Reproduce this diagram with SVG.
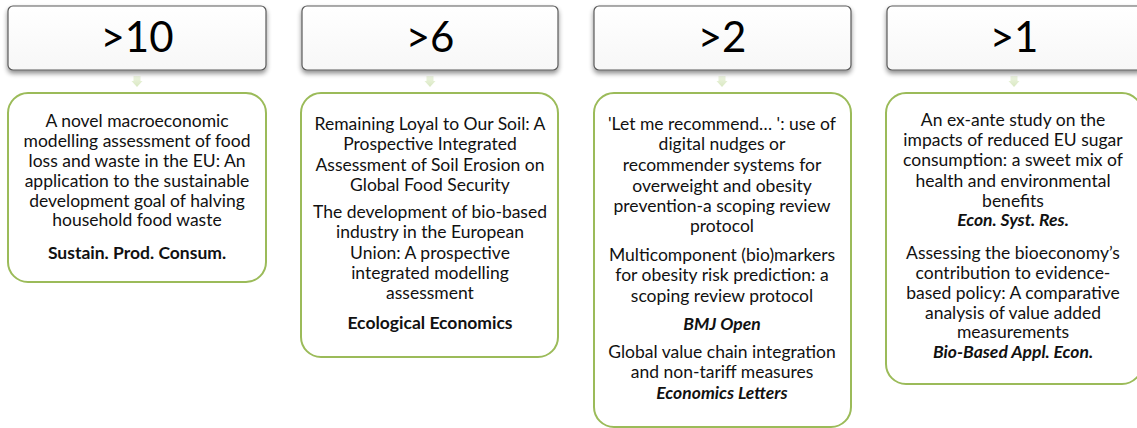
<svg xmlns="http://www.w3.org/2000/svg" width="1137" height="428" viewBox="0 0 1137 428">
<defs>
<filter id="sh" x="-10%" y="-20%" width="120%" height="160%">
<feGaussianBlur in="SourceAlpha" stdDeviation="2.5"/>
<feOffset dx="0" dy="3" result="b"/>
<feComponentTransfer><feFuncA type="linear" slope="0.45"/></feComponentTransfer>
<feMerge><feMergeNode/><feMergeNode in="SourceGraphic"/></feMerge>
</filter>
<linearGradient id="hg" x1="0" y1="0" x2="0" y2="1">
<stop offset="0" stop-color="#ffffff"/><stop offset="1" stop-color="#f7f7f7"/>
</linearGradient>
<linearGradient id="ag" x1="0" y1="0" x2="0" y2="1">
<stop offset="0" stop-color="#eef5e2"/><stop offset="1" stop-color="#d9e8c2"/>
</linearGradient>
<path id="arr" d="M-3.5,0 H3.5 V5 H5.5 L0,11 L-5.5,5 H-3.5 Z"/>
</defs>
<style>
.hd{fill:url(#hg);stroke:#5a5a5a;stroke-width:1.2}
.bx{fill:#ffffff;stroke:#9bbb59;stroke-width:2}
.num{font-family:Lato,"Liberation Sans",sans-serif;font-size:42px;fill:#000;text-anchor:middle}
.t{font-family:Lato,"Liberation Sans",sans-serif;font-size:17.5px;fill:#111;text-anchor:middle}
.b{font-weight:bold}
.i{font-weight:bold;font-style:italic}
.ar{fill:url(#ag)}
</style>

<g id="connectors">
<use href="#arr" x="137" y="76" class="ar"/>
<use href="#arr" x="430" y="76" class="ar"/>
<use href="#arr" x="722" y="76" class="ar"/>
<use href="#arr" x="1014" y="76" class="ar"/>
</g>

<g id="head1"><rect class="hd" x="8" y="6" width="258" height="64" rx="5" filter="url(#sh)"/><text class="num" x="137" y="52">&gt;10</text></g>
<g id="head2"><rect class="hd" x="302" y="6" width="256" height="64" rx="5" filter="url(#sh)"/><text class="num" x="430" y="52">&gt;6</text></g>
<g id="head3"><rect class="hd" x="594" y="6" width="257" height="64" rx="5" filter="url(#sh)"/><text class="num" x="722" y="52">&gt;2</text></g>
<g id="head4"><rect class="hd" x="887" y="6" width="256" height="64" rx="5" filter="url(#sh)"/><text class="num" x="1014" y="52">&gt;1</text></g>

<g id="box1"><rect class="bx" x="8" y="93" width="258" height="189" rx="20"/>
<text class="t" x="137"><tspan x="137" y="127">A novel macroeconomic</tspan><tspan x="137" y="147">modelling assessment of food</tspan><tspan x="137" y="167">loss and waste in the EU: An</tspan><tspan x="137" y="187">application to the sustainable</tspan><tspan x="137" y="207">development goal of halving</tspan><tspan x="137" y="226">household food waste</tspan></text>
<text class="t b" x="137" y="259">Sustain. Prod. Consum.</text></g>

<g id="box2"><rect class="bx" x="301" y="93" width="257" height="264" rx="20"/>
<text class="t" x="430"><tspan x="430" y="130">Remaining Loyal to Our Soil: A</tspan><tspan x="430" y="150">Prospective Integrated</tspan><tspan x="430" y="171">Assessment of Soil Erosion on</tspan><tspan x="430" y="191">Global Food Security</tspan></text>
<text class="t" x="430"><tspan x="430" y="218">The development of bio-based</tspan><tspan x="430" y="238">industry in the European</tspan><tspan x="430" y="259">Union: A prospective</tspan><tspan x="430" y="279">integrated modelling</tspan><tspan x="430" y="299">assessment</tspan></text>
<text class="t b" x="430" y="329">Ecological Economics</text></g>

<g id="box3"><rect class="bx" x="594" y="93" width="257" height="334" rx="20"/>
<text class="t" x="722"><tspan x="722" y="130">'Let me recommend… ': use of</tspan><tspan x="722" y="150">digital nudges or</tspan><tspan x="722" y="171">recommender systems for</tspan><tspan x="722" y="192">overweight and obesity</tspan><tspan x="722" y="212">prevention-a scoping review</tspan><tspan x="722" y="232">protocol</tspan></text>
<text class="t" x="722"><tspan x="722" y="261">Multicomponent (bio)markers</tspan><tspan x="722" y="281">for obesity risk prediction: a</tspan><tspan x="722" y="302">scoping review protocol</tspan></text>
<text class="t i" x="722" y="330">BMJ Open</text>
<text class="t" x="722"><tspan x="722" y="358">Global value chain integration</tspan><tspan x="722" y="378">and non-tariff measures</tspan></text>
<text class="t i" x="722" y="399">Economics Letters</text></g>

<g id="box4"><rect class="bx" x="886" y="93" width="256" height="291" rx="20"/>
<text class="t" x="1013"><tspan x="1013" y="126">An ex-ante study on the</tspan><tspan x="1013" y="146">impacts of reduced EU sugar</tspan><tspan x="1013" y="166">consumption: a sweet mix of</tspan><tspan x="1013" y="187">health and environmental</tspan><tspan x="1013" y="207">benefits</tspan></text>
<text class="t i" x="1013" y="226">Econ. Syst. Res.</text>
<text class="t" x="1013"><tspan x="1013" y="259">Assessing the bioeconomy’s</tspan><tspan x="1013" y="279">contribution to evidence-</tspan><tspan x="1013" y="299">based policy: A comparative</tspan><tspan x="1013" y="319">analysis of value added</tspan><tspan x="1013" y="338">measurements</tspan></text>
<text class="t i" x="1013" y="358">Bio-Based Appl. Econ.</text></g>
</svg>
